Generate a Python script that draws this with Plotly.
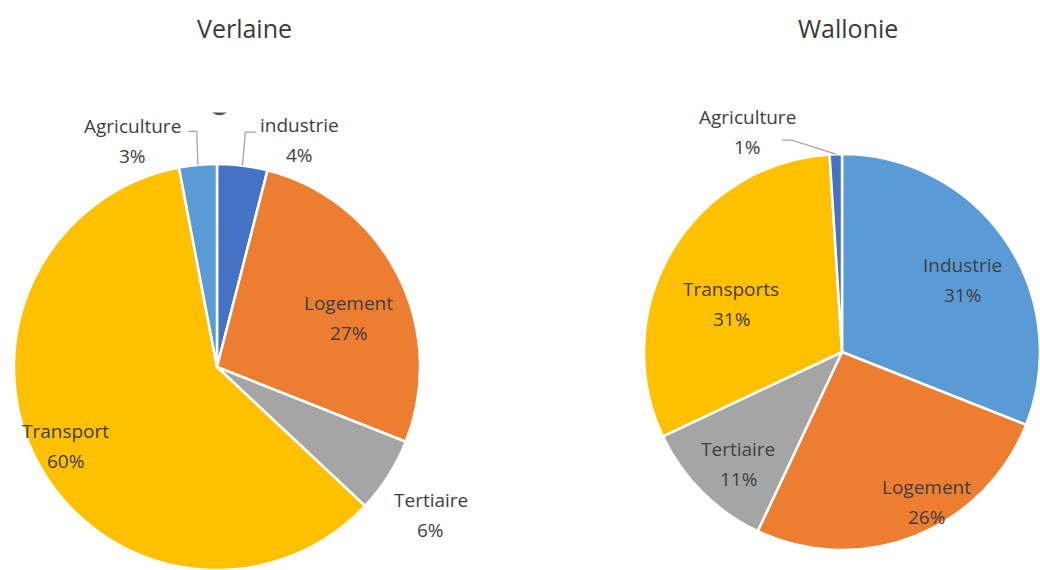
import math
import plotly.graph_objects as go

# ---- data -------------------------------------------------------------
verlaine_labels = ["industrie", "Logement", "Tertiaire", "Transport", "Agriculture"]
verlaine_values = [4, 27, 6, 60, 3]
verlaine_colors = ["#4472C4", "#ED7D31", "#A5A5A5", "#FFC000", "#5B9BD5"]

wallonie_labels = ["Industrie", "Logement", "Tertiaire", "Transports", "Agriculture"]
wallonie_values = [31, 26, 11, 31, 1]
wallonie_colors = ["#5B9BD5", "#ED7D31", "#A5A5A5", "#FFC000", "#4472C4"]

# ---- layout constants -------------------------------------------------
W, H = 1040, 570
FONT = "Open Sans, Noto Sans, sans-serif"
TEXT = "#404040"

# pie geometry in pixels: centre x, centre y, radius
LEFT = dict(cx=217, cy=367, r=203)
RIGHT = dict(cx=842, cy=352, r=198)

# label placement per slice: (radius factor, angular nudge in degrees)
verlaine_label_pos = [(1.19, 12.7), (0.69, 6.4), (1.28, 2.3), (0.84, 1.3), (1.19, -15.2)]
wallonie_label_pos = [(0.71, 3.2), (0.87, -7.7), (0.77, -2.1), (0.61, -7.2), (1.21, -21.5)]

# leader lines for outside labels: slice index -> (elbow radius factor, elbow nudge, tail px)
verlaine_leaders = {0: (1.165, -0.3, 11), 4: (1.165, 0.5, -9)}
wallonie_leaders = {4: (1.10, -11.5, -10)}


def domain_of(g):
    return dict(
        x=[(g["cx"] - g["r"]) / W, min(1.0, (g["cx"] + g["r"]) / W)],
        y=[max(0.0, (H - g["cy"] - g["r"]) / H), min(1.0, (H - g["cy"] + g["r"]) / H)],
    )


def polar(g, frac, deg):
    a = math.radians(deg)
    return g["cx"] + g["r"] * frac * math.sin(a), g["cy"] - g["r"] * frac * math.cos(a)


def mid_angles(values):
    total = float(sum(values))
    out, acc = [], 0.0
    for v in values:
        out.append((acc + v / 2.0) / total * 360.0)
        acc += v
    return out


fig = go.Figure()
for labels, values, colors, g in [
    (verlaine_labels, verlaine_values, verlaine_colors, LEFT),
    (wallonie_labels, wallonie_values, wallonie_colors, RIGHT),
]:
    fig.add_trace(go.Pie(
        labels=labels, values=values, sort=False, direction="clockwise", rotation=0,
        marker=dict(colors=colors, line=dict(color="white", width=2.5)),
        textinfo="none", hoverinfo="label+percent", showlegend=False,
        domain=domain_of(g),
    ))

annotations = []
shapes = []


def px_to_paper(x, y):
    return x / W, 1 - y / H


def add_labels(labels, values, g, pos):
    total = float(sum(values))
    for lab, v, ang, (f, nudge) in zip(labels, values, mid_angles(values), pos):
        x, y = polar(g, f, ang + nudge)
        px, py = px_to_paper(x, y)
        pct = f"{round(v / total * 100)}%"
        for txt, shift in ((lab, 15), (pct, -15)):
            annotations.append(dict(
                x=px, y=py, xref="paper", yref="paper", text=txt, showarrow=False,
                xanchor="center", yanchor="middle", yshift=shift,
                font=dict(family=FONT, size=19, color=TEXT),
            ))


def add_leaders(values, g, leaders):
    mids = mid_angles(values)
    for i, (f, nudge, tail) in leaders.items():
        x0, y0 = polar(g, 1.0, mids[i])
        x1, y1 = polar(g, f, mids[i] + nudge)
        x2 = x1 + tail
        pts = [px_to_paper(x0, y0), px_to_paper(x1, y1), px_to_paper(x2, y1)]
        path = "M {} {} L {} {} L {} {}".format(*[c for p in pts for c in p])
        shapes.append(dict(type="path", xref="paper", yref="paper", path=path,
                           line=dict(color="#A6A6A6", width=1.3)))


add_labels(verlaine_labels, verlaine_values, LEFT, verlaine_label_pos)
add_labels(wallonie_labels, wallonie_values, RIGHT, wallonie_label_pos)
add_leaders(verlaine_values, LEFT, verlaine_leaders)
add_leaders(wallonie_values, RIGHT, wallonie_leaders)

# chart titles
for title, xc in (("Verlaine", 244), ("Wallonie", 848)):
    annotations.append(dict(
        x=xc / W, y=1 - 28 / H, xref="paper", yref="paper", text=title, showarrow=False,
        xanchor="center", yanchor="middle",
        font=dict(family=FONT, size=25, color="#3A3A3A"),
    ))

# small dark glyph fragment above the left pie
a = px_to_paper(212, 112.5)
b = px_to_paper(227, 112.5)
c = px_to_paper(219.5, 118)
shapes.append(dict(
    type="path", xref="paper", yref="paper",
    path=f"M {a[0]} {a[1]} Q {c[0]} {c[1]} {b[0]} {b[1]} Z",
    fillcolor="#555555", line=dict(width=0),
))

fig.update_layout(
    width=W, height=H,
    margin=dict(l=0, r=0, t=0, b=0),
    paper_bgcolor="white", plot_bgcolor="white",
    annotations=annotations, shapes=shapes,
)

fig.write_html("out.html")
